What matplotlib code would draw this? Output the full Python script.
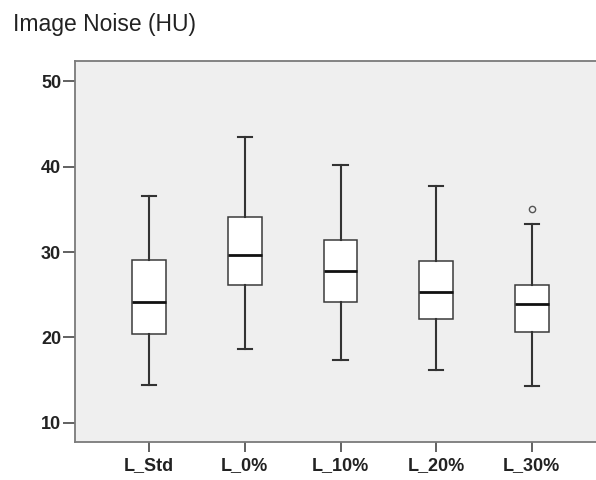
import numpy as np
import matplotlib.pyplot as plt

# box statistics (HU)
groups = ['L_Std', 'L_0%', 'L_10%', 'L_20%', 'L_30%']
whisker_low = [14.4, 18.6, 17.3, 16.2, 14.3]
q1 = [20.4, 26.1, 24.1, 22.2, 20.6]
median = [24.2, 29.6, 27.8, 25.3, 23.9]
q3 = [29.1, 34.1, 31.4, 28.9, 26.1]
whisker_high = [36.6, 43.5, 40.2, 37.8, 33.3]
outliers = [[], [], [], [], [35.0]]

yticks = [10, 20, 30, 40, 50]

plt.rcParams['font.family'] = ['Liberation Sans', 'DejaVu Sans']

fig = plt.figure(figsize=(5.96, 4.8), dpi=100)
# axes runs slightly past the right edge, as in the cropped original
ax = fig.add_axes([75/596, 38.3/480, 531/596, 380.7/480])
ax.set_facecolor('#efefef')

stats = []
for i in range(len(groups)):
    stats.append({'label': groups[i], 'whislo': whisker_low[i], 'q1': q1[i],
                  'med': median[i], 'q3': q3[i], 'whishi': whisker_high[i],
                  'fliers': outliers[i]})

pos = np.arange(1, len(groups) + 1)
ax.bxp(stats, positions=pos, widths=0.35, capwidths=0.15, patch_artist=True,
       boxprops=dict(facecolor='white', edgecolor='#3a3a3a', linewidth=1.1),
       medianprops=dict(color='#111111', linewidth=2.0),
       whiskerprops=dict(color='#333333', linewidth=1.5),
       capprops=dict(color='#333333', linewidth=1.5),
       flierprops=dict(marker='o', markerfacecolor='none', markeredgecolor='#555555',
                       markersize=4.5, markeredgewidth=1.0))

ax.set_xlim(0.224, 5.776)
ax.set_ylim(7.77, 52.4)
ax.set_yticks(yticks)
ax.set_xticks(pos)
ax.set_xticklabels(groups)

for s in ['left', 'bottom', 'top', 'right']:
    ax.spines[s].set_color('#7a7a7a')
    ax.spines[s].set_linewidth(1.3)

ax.tick_params(axis='y', length=9, width=1.3, color='#555555', pad=1,
               labelsize=13, labelcolor='#222222')
ax.tick_params(axis='x', length=7, width=1.3, color='#555555', pad=4,
               labelsize=13, labelcolor='#222222')
for lab in ax.get_xticklabels() + ax.get_yticklabels():
    lab.set_fontweight('bold')

fig.text(13/596, 1 - 31/480, 'Image Noise (HU)', fontsize=16.5, color='#222222',
         va='baseline', ha='left')

fig.savefig('out.png', dpi=100)
